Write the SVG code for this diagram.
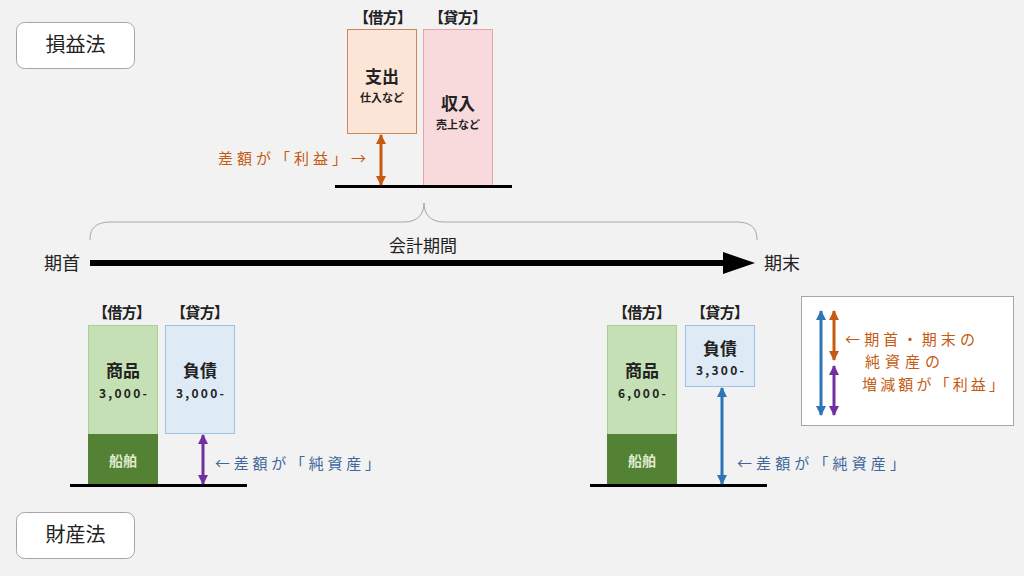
<svg xmlns="http://www.w3.org/2000/svg" width="1024" height="576" viewBox="0 0 1024 576">
<defs>
<style>
text{font-family:"Noto Sans CJK JP","Noto Sans",sans-serif;}
.lbl{font-size:20px;fill:#222;text-anchor:middle;}
.hd{font-size:15px;font-weight:bold;fill:#222;text-anchor:middle;}
.big{font-size:17px;font-weight:bold;fill:#222;text-anchor:middle;}
.sm{font-size:11px;font-weight:bold;fill:#222;text-anchor:middle;}
.num{font-size:12px;font-weight:bold;fill:#222;text-anchor:middle;}
.ship{font-size:14px;font-weight:bold;fill:#dfeccf;text-anchor:middle;}
.or{font-size:15px;fill:#c55a11;}
.bl{font-size:15px;fill:#41679a;}
.axis{font-size:18px;fill:#222;}
.base{stroke:#000;stroke-width:3;}
.card{fill:#fff;stroke:#a6a6a6;stroke-width:1;}
</style>
<marker id="hO" viewBox="0 0 10 10" refX="9" refY="5" markerWidth="10" markerHeight="11" markerUnits="userSpaceOnUse" orient="auto-start-reverse"><path d="M0,0 L10,5 L0,10 z" fill="#c55a11"/></marker>
<marker id="hP" viewBox="0 0 10 10" refX="9" refY="5" markerWidth="10" markerHeight="11" markerUnits="userSpaceOnUse" orient="auto-start-reverse"><path d="M0,0 L10,5 L0,10 z" fill="#7030a0"/></marker>
<marker id="hB" viewBox="0 0 10 10" refX="9" refY="5" markerWidth="10" markerHeight="11" markerUnits="userSpaceOnUse" orient="auto-start-reverse"><path d="M0,0 L10,5 L0,10 z" fill="#2e75b6"/></marker>
</defs>
<rect width="1024" height="576" fill="#f2f2f2"/>

<g id="label-sonneki"><rect class="card" x="16.5" y="22.5" width="118" height="46" rx="8"/><text class="lbl" x="75.5" y="52">損益法</text></g>
<g id="label-zaisan"><rect class="card" x="16.5" y="512.5" width="118" height="46" rx="8"/><text class="lbl" x="75.5" y="542">財産法</text></g>

<g id="pl">
<text class="hd" x="383" y="23" textLength="58" lengthAdjust="spacing">【借方】</text>
<text class="hd" x="458" y="23" textLength="58" lengthAdjust="spacing">【貸方】</text>
<rect x="347.5" y="29.5" width="69" height="104" fill="#fbe5d6" stroke="#c9875a"/>
<text class="big" x="382" y="83">支出</text>
<text class="sm" x="382" y="102">仕入など</text>
<rect x="423.5" y="29.5" width="69" height="156" fill="#f9dadc" stroke="#e8a3a8"/>
<text class="big" x="458" y="110">収入</text>
<text class="sm" x="458" y="129">売上など</text>
<line class="base" x1="335" y1="186.5" x2="512" y2="186.5"/>
</g>

<g id="bs-begin">
<text class="hd" x="122" y="318" textLength="58" lengthAdjust="spacing">【借方】</text>
<text class="hd" x="200" y="318" textLength="58" lengthAdjust="spacing">【貸方】</text>
<rect x="88.5" y="325.5" width="69" height="109" fill="#c5e0b4" stroke="#a9d18e"/>
<text class="big" x="123" y="377">商品</text>
<text class="num" x="123" y="398" textLength="48" lengthAdjust="spacing">3,000-</text>
<rect x="88" y="434" width="70" height="51" fill="#548235"/>
<text class="ship" x="123" y="466">船舶</text>
<rect x="165.5" y="325.5" width="69" height="108" fill="#deebf7" stroke="#9dc3e6"/>
<text class="big" x="200" y="377">負債</text>
<text class="num" x="200" y="398" textLength="48" lengthAdjust="spacing">3,000-</text>
<line class="base" x1="70" y1="485.5" x2="247" y2="485.5"/>
</g>

<g id="bs-end">
<text class="hd" x="642" y="318" textLength="58" lengthAdjust="spacing">【借方】</text>
<text class="hd" x="720" y="318" textLength="58" lengthAdjust="spacing">【貸方】</text>
<rect x="607.5" y="325.5" width="69" height="109" fill="#c5e0b4" stroke="#a9d18e"/>
<text class="big" x="642" y="377">商品</text>
<text class="num" x="642" y="398" textLength="48" lengthAdjust="spacing">6,000-</text>
<rect x="607" y="434" width="70" height="51" fill="#548235"/>
<text class="ship" x="642" y="466">船舶</text>
<rect x="685.5" y="325.5" width="69" height="61" fill="#deebf7" stroke="#9dc3e6"/>
<text class="big" x="720" y="355">負債</text>
<text class="num" x="720" y="375" textLength="48" lengthAdjust="spacing">3,300-</text>
<line class="base" x1="590" y1="485.5" x2="767" y2="485.5"/>
</g>

<g id="legend">
<rect class="card" x="801.5" y="296.5" width="212" height="129"/>
<text class="or" x="845" y="345" textLength="130" lengthAdjust="spacing">←期首・期末の</text>
<text class="or" x="865" y="367" textLength="75" lengthAdjust="spacing">純資産の</text>
<text class="or" x="862" y="390" textLength="142" lengthAdjust="spacing">増減額が「利益」</text>
</g>

<g id="timeline">
<path d="M90,240 C90,226 98,222 112,222 L404,222 C418,222 424,214 424,203 C424,214 430,222 444,222 L735,222 C749,222 757,226 757,240" fill="none" stroke="#a6a6a6" stroke-width="1"/>
<text class="axis" x="44" y="270">期首</text>
<text class="axis" x="764" y="270">期末</text>
<text class="axis" x="423" y="252" text-anchor="middle" style="font-size:17px">会計期間</text>
<line x1="90" y1="263" x2="726" y2="263" stroke="#000" stroke-width="6"/>
<polygon points="723,252 755,263 723,274" fill="#000"/>
</g>

<g id="connectors">
<line x1="381" y1="135" x2="381" y2="185" stroke="#c55a11" stroke-width="3" marker-start="url(#hO)" marker-end="url(#hO)"/>
<line x1="203" y1="435" x2="203" y2="484" stroke="#7030a0" stroke-width="3" marker-start="url(#hP)" marker-end="url(#hP)"/>
<line x1="722" y1="388" x2="722" y2="484" stroke="#2e75b6" stroke-width="3" marker-start="url(#hB)" marker-end="url(#hB)"/>
<line x1="821" y1="311" x2="821" y2="415" stroke="#2e75b6" stroke-width="3" marker-start="url(#hB)" marker-end="url(#hB)"/>
<line x1="834" y1="311" x2="834" y2="360" stroke="#c55a11" stroke-width="3" marker-start="url(#hO)" marker-end="url(#hO)"/>
<line x1="834" y1="366" x2="834" y2="415" stroke="#7030a0" stroke-width="3" marker-start="url(#hP)" marker-end="url(#hP)"/>
</g>

<g id="notes">
<text class="or" x="218" y="164" textLength="148" lengthAdjust="spacing">差額が「利益」→</text>
<text class="bl" x="215" y="469" textLength="165" lengthAdjust="spacing">←差額が「純資産」</text>
<text class="bl" x="737" y="469" textLength="168" lengthAdjust="spacing">←差額が「純資産」</text>
</g>
</svg>
